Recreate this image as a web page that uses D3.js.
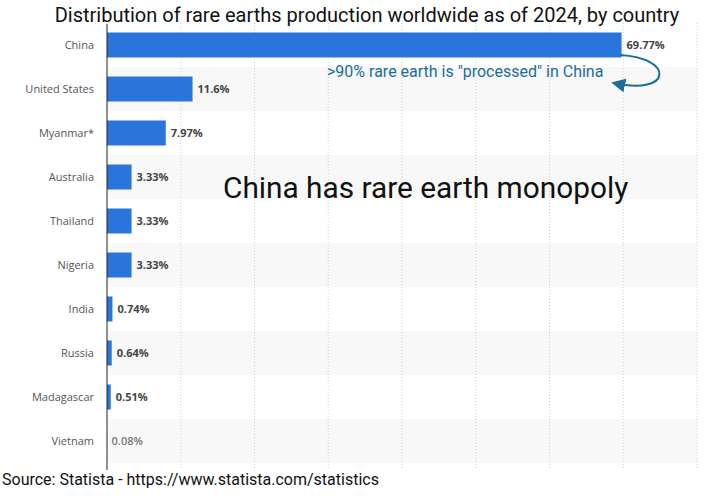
<!DOCTYPE html>
<html><head><meta charset="utf-8">
<script src="https://cdn.jsdelivr.net/npm/d3@7"></script>
<style>body{margin:0;background:#fff;}svg{display:block;font-family:Roboto,sans-serif;}</style>
</head><body>
<script>
const countries = ["China","United States","Myanmar*","Australia","Thailand","Nigeria","India","Russia","Madagascar","Vietnam"];
const shares = [69.77,11.6,7.97,3.33,3.33,3.33,0.74,0.64,0.51,0.08];
const valueLabels = ["69.77%","11.6%","7.97%","3.33%","3.33%","3.33%","0.74%","0.64%","0.51%","0.08%"];
const xTicks = [0,10,20,30,40,50,60,70,80];

const W=709,H=498;
const svg=d3.select("body").append("svg").attr("width",W).attr("height",H);
const x=d3.scaleLinear().domain([0,80]).range([107,697]);
const y=d3.scaleBand().domain(countries).range([23,463]).paddingInner(0).paddingOuter(0);

// stripes
svg.append("g").selectAll("rect").data(countries.filter((d,i)=>i%2===1)).join("rect")
  .attr("x",107).attr("width",590).attr("y",d=>y(d)).attr("height",y.bandwidth()).attr("fill","#f8f8f8");

// grid
svg.append("g").selectAll("line").data(xTicks.slice(1)).join("line")
  .attr("x1",d=>x(d)).attr("x2",d=>x(d)).attr("y1",23).attr("y2",468)
  .attr("stroke","#d0d0d0").attr("stroke-dasharray","1,2");

// bars
const bh=25;
svg.append("g").selectAll("rect").data(countries).join("rect")
  .attr("x",x(0)).attr("y",d=>y(d)+(y.bandwidth()-bh)/2)
  .attr("width",(d,i)=>x(shares[i])-x(0)).attr("height",bh)
  .attr("fill",(d,i)=>shares[i]<0.1?"none":"#2a75db");

// axis line
svg.append("line").attr("x1",107).attr("x2",107).attr("y1",24).attr("y2",470).attr("stroke","#222").attr("stroke-width",1);

// category labels
svg.append("g").selectAll("text").data(countries).join("text")
  .attr("x",94).attr("y",d=>y(d)+y.bandwidth()/2).attr("dy","0.35em")
  .attr("text-anchor","end").attr("font-size",11).attr("fill","#555")
  .style("font-family","'Open Sans',sans-serif").text(d=>d);

// value labels
svg.append("g").selectAll("text").data(countries).join("text")
  .attr("x",(d,i)=>x(shares[i])+(shares[i]<0.1?4:5)).attr("y",d=>y(d)+y.bandwidth()/2).attr("dy","0.35em")
  .attr("font-size",11).attr("font-weight",(d,i)=>shares[i]<0.1?600:"bold")
  .attr("fill",(d,i)=>shares[i]<0.1?"#777":"#444")
  .style("font-family","'Open Sans',sans-serif").text((d,i)=>valueLabels[i]);

// title
svg.append("text").attr("x",367).attr("y",22).attr("text-anchor","middle").attr("font-size",20).attr("fill","#111")
  .text("Distribution of rare earths production worldwide as of 2024, by country");

// annotation
svg.append("text").attr("x",327).attr("y",77).attr("font-size",16).attr("fill","#1b6e9a")
  .text('>90% rare earth is "processed" in China');
svg.append("defs").append("marker").attr("id","ah").attr("viewBox","0 0 10 10").attr("refX",8).attr("refY",5)
  .attr("markerWidth",7).attr("markerHeight",7).attr("orient","auto")
  .append("path").attr("d","M0,0 L10,5 L0,10 z").attr("fill","#1b6e9a");
svg.append("path").attr("d","M620,55 C675,58 672,96 614,83").attr("fill","none").attr("stroke","#1b6e9a")
  .attr("stroke-width",2).attr("marker-end","url(#ah)");

svg.append("text").attr("x",223).attr("y",198).attr("font-size",29.8).attr("fill","#111")
  .text("China has rare earth monopoly");

svg.append("text").attr("x",2).attr("y",485).attr("font-size",16).attr("fill","#111")
  .text("Source: Statista - https://www.statista.com/statistics");
</script>
</body></html>
